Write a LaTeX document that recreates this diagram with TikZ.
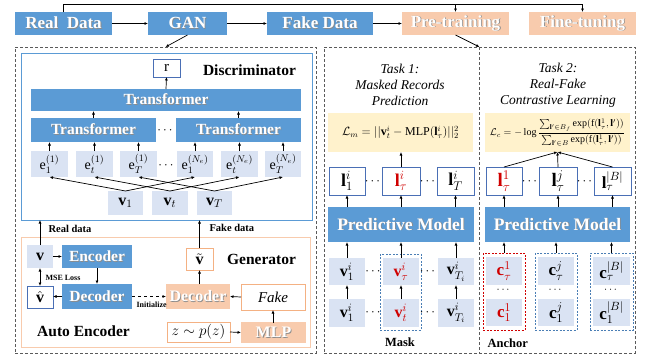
\RequirePackage{fix-cm}
\documentclass[tikz,border=0pt]{standalone}
\usepackage{amsmath}
\usepackage{fontspec}
\setmainfont{Liberation Serif}
\usetikzlibrary{arrows.meta}
\definecolor{bfill}{HTML}{5B9BD5}
\definecolor{lbfill}{HTML}{DAE3F3}
\definecolor{ofill}{HTML}{F8CBAD}
\definecolor{oborder}{HTML}{F4B183}
\definecolor{olight}{HTML}{F8CBAD}
\definecolor{yfill}{HTML}{FFF2CC}
\definecolor{lborder}{HTML}{4A6FB5}
\definecolor{dgray}{HTML}{5A5A5A}
\definecolor{myred}{HTML}{D00000}
\definecolor{mblue}{HTML}{4A7EB5}
\newcommand{\shd}[1]{\rlap{\kern0.8pt\raisebox{-0.8pt}{\color{black!45}#1}}#1}
\newcommand{\rb}[7]{\node[#1,minimum width={#5-#3},minimum height={#6-#4}] (#2) at ({(#3+#5)/2},{(#4+#6)/2}) {#7};}
\newcommand{\rd}[1]{\textcolor{myred}{#1}}
\tikzset{
 base/.style={inner sep=0pt, outer sep=0pt},
 topblue/.style={base, fill=bfill, text=white, font=\fontsize{17}{17}\selectfont\bfseries},
 toporange/.style={base, fill=ofill, text=white, font=\fontsize{17}{17}\selectfont\bfseries},
 bluet/.style={base, fill=bfill, text=white, font=\fontsize{15.5}{15.5}\selectfont\bfseries},
 pmstyle/.style={base, fill=bfill, text=white, font=\fontsize{17.5}{17.5}\selectfont\bfseries},
 oranget/.style={base, fill=ofill, text=white, font=\fontsize{16}{16}\selectfont\bfseries},
 lbbox/.style={base, fill=lbfill},
 ebox/.style={lbbox, font=\fontsize{14}{14}\selectfont},
 vbox/.style={lbbox, font=\fontsize{16}{16}\selectfont},
 wbox/.style={base, fill=white, draw=lborder, line width=0.9pt},
 lbox/.style={wbox, font=\fontsize{18}{18}\selectfont},
 wobox/.style={base, fill=white, draw=oborder, line width=0.9pt, font=\fontsize{15}{15}\selectfont},
 ybox/.style={base, fill=yfill},
 dbox/.style={base, draw=dgray, line width=0.9pt, dash pattern=on 3pt off 2pt},
 discstyle/.style={base, draw=bfill, line width=1pt},
 genstyle/.style={base, draw=olight, line width=1pt},
 maskbox/.style={base, draw=mblue, line width=0.9pt, dash pattern=on 2pt off 1.5pt},
 redbox/.style={base, draw=myred, line width=0.9pt, dash pattern=on 2pt off 1.5pt},
 arr/.style={-{Latex[length=3.5pt,width=3pt]}, line width=0.7pt},
 lbl/.style={font=\fontsize{15.5}{15.5}\selectfont\bfseries},
 small/.style={font=\fontsize{10.5}{10.5}\selectfont\bfseries},
 tiny/.style={font=\fontsize{8}{8}\selectfont\bfseries},
 title/.style={align=center, font=\fontsize{13.5}{16}\selectfont\itshape},
 dts/.style={font=\fontsize{13}{13}\selectfont},
}
\begin{document}
\begin{tikzpicture}[x=1pt,y=-1pt]
\useasboundingbox (0,0) rectangle (646,360);
% top row
\rb{topblue}{real}{15}{12}{112}{35}{\shd{Real\ \ Data}}
\rb{topblue}{gan}{148}{12}{227}{35}{\shd{GAN}}
\rb{topblue}{fake}{267}{12}{373}{35}{\shd{Fake Data}}
\rb{toporange}{pre}{402}{12}{509}{35}{\shd{Pre-training}}
\rb{toporange}{fine}{529}{12}{636}{35}{\shd{Fine-tuning}}
\coordinate (top) at (0,4);
\draw[arr] (real) -- (gan);
\draw[arr] (gan) -- (fake);
\draw[arr] (fake) -- (pre);
\draw[line width=0.8pt] (real.north) -- (real.north |- top) -- (fine.north |- top);
\draw[arr] (fine.north |- top) -- (fine.north);
\draw[arr] (pre.north |- top) -- (pre.north);
% dashed containers
\rb{dbox}{lbx}{15}{47}{316}{353}{}
\rb{dbox}{rbx}{324}{47}{635}{353}{}
\draw[dgray, line width=0.9pt, dash pattern=on 3pt off 2pt] (rbx.north) -- (rbx.south);
\draw[arr] (gan.south) -- (lbx.north);
\draw[arr] (pre.south) -- (rbx.north);
% discriminator
\rb{discstyle}{disc}{21}{53}{312}{220}{}
\rb{wbox}{r}{153}{59}{180}{77}{\fontsize{15}{15}\selectfont r}
\node[lbl] (dlab) at (249.5,70) {Discriminator};
\rb{bluet}{T0}{31}{89}{301}{111}{\shd{Transformer}}
\rb{bluet}{T1}{31}{118}{156}{142}{\shd{Transformer}}
\rb{bluet}{T2}{176}{118}{301}{142}{\shd{Transformer}}
\node[dts] (tdots) at (166,131) {$\cdots$};
\draw[arr] (T0.north) -- (r.south);
\draw[arr] (T1.north) -- (T1.north |- T0.south);
\draw[arr] (T2.north) -- (T2.north |- T0.south);
\rb{ebox}{e11}{31}{151}{68}{177}{$\mathrm{e}_1^{(1)}$}
\rb{ebox}{e1t}{76}{151}{113}{177}{$\mathrm{e}_t^{(1)}$}
\rb{ebox}{e1T}{120}{151}{157}{177}{$\mathrm{e}_T^{(1)}$}
\rb{ebox}{eN1}{177}{151}{213}{177}{$\mathrm{e}_1^{(N_e)}$}
\rb{ebox}{eNt}{221}{151}{258}{177}{$\mathrm{e}_t^{(N_e)}$}
\rb{ebox}{eNT}{265}{151}{301}{177}{$\mathrm{e}_T^{(N_e)}$}
\node[dts] (edots) at (167,166) {$\cdots$};
\foreach \n/\t in {e11/T1,e1t/T1,e1T/T1,eN1/T2,eNt/T2,eNT/T2}
  \draw[arr] (\n.north) -- (\n.north |- \t.south);
\rb{vbox}{v1}{108}{191}{143}{215}{$\mathbf{v}_1$}
\rb{vbox}{vt}{152}{191}{188}{215}{$\mathbf{v}_t$}
\rb{vbox}{vT}{197}{191}{232}{215}{$\mathbf{v}_T$}
\draw[arr] (v1.north) -- (e11.south);
\draw[arr] (v1.north) -- (eN1.south);
\draw[arr] (vt.north) -- (e1t.south);
\draw[arr] (vt.north) -- (eNt.south);
\draw[arr] (vT.north) -- (e1T.south);
\draw[arr] (vT.north) -- (eNT.south);
% generator / auto encoder
\rb{genstyle}{gen}{21}{237}{310}{347}{}
\rb{vbox}{v}{27}{245}{53}{268}{$\mathbf{v}$}
\rb{bluet}{enc}{62}{245}{132}{268}{\shd{Encoder}}
\rb{bluet}{dec}{62}{284}{132}{309}{\shd{Decoder}}
\rb{wbox}{vhat}{27}{286}{53}{308}{\fontsize{16}{16}\selectfont$\hat{\mathbf{v}}$}
\rb{oranget}{odec}{166}{284}{230}{309}{\shd{Decoder}}
\rb{wobox}{vtil}{186}{248}{213}{270}{\fontsize{16}{16}\selectfont$\tilde{\mathbf{v}}$}
\node[lbl] (glab) at (261.5,259) {Generator};
\rb{wobox}{fakebox}{241}{284}{305}{310}{\textit{Fake}}
\rb{oranget}{mlp}{241}{322}{306}{343}{\shd{MLP}}
\rb{wobox}{zbox}{167}{322}{230}{342}{$z\sim p(z)$}
\node[lbl] (alab) at (83.5,331) {Auto Encoder};
\draw[arr] (v.north) -- (v.north |- disc.south);
\node[small, anchor=west] (rdl) at (45,229) {Real data};
\draw[arr] (vtil.north) -- (vtil.north |- disc.south);
\node[small, anchor=west] (fdl) at (206,228) {Fake data};
\draw[arr] (v.east) -- (enc.west);
\draw[arr] (enc.south) -- (dec.north);
\draw[arr] (dec.west) -- (vhat.east |- dec.west);
\draw[{Latex[length=3.5pt,width=3pt]}-{Latex[length=3.5pt,width=3pt]}, line width=0.7pt] (v.south) -- (vhat.north);
\node[tiny, anchor=west] (mse) at (42,278) {MSE Loss};
\draw[arr, dashed] (dec.east) -- (odec.west);
\node[tiny, anchor=west] (ini) at (133,305) {Initialize};
\draw[arr] (vtil.south |- odec.north) -- (vtil.south);
\draw[arr] (fakebox.west) -- (odec.east);
\draw[arr] (mlp.north) -- (fakebox.south |- mlp.north) -- (fakebox.south);
\draw[arr] (zbox.east) -- (mlp.west);
% Task 1
\node[title] (t1) at (400,85) {Task 1:\\Masked Records\\Prediction};
\rb{ybox}{f1}{328}{113}{473}{152}{\fontsize{12}{12}\selectfont$\mathcal{L}_m = ||\mathbf{v}_t^i - \mathrm{MLP}(\mathbf{l}_\tau^i)||_2^2$}
\rb{lbox}{l11}{329}{167}{365}{195}{$\mathbf{l}_1^i$}
\rb{lbox}{l1m}{382}{167}{420}{195}{\rd{$\mathbf{l}_\tau^i$}}
\rb{lbox}{l1T}{437}{167}{474}{195}{$\mathbf{l}_T^i$}
\node[dts] (ld1) at (373.5,182) {$\cdots$};
\node[dts] (ld2) at (428.5,182) {$\cdots$};
\rb{pmstyle}{pm1}{328}{207}{474}{242}{\shd{Predictive Model}}
\draw[arr] (l1m.north) -- (l1m.north |- f1.south);
\foreach \n in {l11,l1m,l1T}
  \draw[arr] (\n.south |- pm1.north) -- (\n.south);
\rb{maskbox}{mask}{380}{254}{421}{330}{}
\rb{vbox}{va1}{329}{258}{365}{285}{$\mathbf{v}_1^i$}
\rb{vbox}{vam}{383}{258}{419}{285}{\rd{$\mathbf{v}_\tau^i$}}
\rb{vbox}{vaT}{438}{258}{474}{285}{$\mathbf{v}_{T_i}^i$}
\rb{vbox}{vb1}{329}{299}{365}{327}{$\mathbf{v}_1^i$}
\rb{vbox}{vbm}{383}{299}{419}{327}{\rd{$\mathbf{v}_t^i$}}
\rb{vbox}{vbT}{438}{299}{474}{327}{$\mathbf{v}_{T_i}^i$}
\node[dts] (vd1) at (374,272) {$\cdots$};
\node[dts] (vd2) at (428.5,272) {$\cdots$};
\node[dts] (vd3) at (374,313) {$\cdots$};
\node[dts] (vd4) at (428.5,313) {$\cdots$};
\foreach \a/\b in {va1/vb1,vam/vbm,vaT/vbT} {
  \draw[arr] (\a.north) -- (\a.north |- pm1.south);
  \draw[arr] (\b.north) -- (\a.south);
}
\node[font=\fontsize{12.5}{12.5}\selectfont\bfseries] (masklab) at (400,342) {Mask};
% Task 2
\node[title] (t2) at (558,85) {Task 2:\\Real-Fake\\Contrastive Learning};
\rb{ybox}{f2}{485}{113}{630}{152}{\fontsize{10}{10}\selectfont$\mathcal{L}_c = -\log\dfrac{\textstyle\sum_{\mathbf{l}'\in B_f}\exp(\mathrm{f}(\mathbf{l}_\tau^1,\mathbf{l}'))}{\textstyle\sum_{\mathbf{l}'\in B}\exp(\mathrm{f}(\mathbf{l}_\tau^1,\mathbf{l}'))}$}
\rb{lbox}{l21}{486}{167}{522}{195}{\fontsize{19}{19}\selectfont\rd{$\mathbf{l}_\tau^1$}}
\rb{lbox}{l2j}{539}{167}{577}{195}{\fontsize{19}{19}\selectfont$\mathbf{l}_\tau^j$}
\rb{lbox}{l2B}{594}{167}{631}{195}{\fontsize{17}{17}\selectfont$\mathbf{l}_\tau^{|B|}$}
\node[dts] (ld3) at (530.5,182) {$\cdots$};
\node[dts] (ld4) at (585.5,182) {$\cdots$};
\rb{pmstyle}{pm2}{485}{207}{630}{242}{\shd{Predictive Model}}
\foreach \n in {l21,l2j,l2B} {
  \draw[arr] (\n.north) -- (f2.south);
  \draw[arr] (\n.south |- pm2.north) -- (\n.south);
}
\rb{redbox}{an1}{483}{253}{525}{330}{}
\rb{maskbox}{an2}{535}{253}{577}{330}{}
\rb{maskbox}{an3}{590}{253}{633}{330}{}
\rb{vbox}{c1a}{486}{257}{522}{285}{\fontsize{17}{17}\selectfont\rd{$\mathbf{c}_\tau^1$}}
\rb{vbox}{c1b}{486}{299}{522}{326}{\fontsize{17}{17}\selectfont\rd{$\mathbf{c}_1^1$}}
\rb{vbox}{c2a}{538}{257}{574}{285}{\fontsize{17}{17}\selectfont$\mathbf{c}_\tau^j$}
\rb{vbox}{c2b}{538}{299}{574}{326}{\fontsize{17}{17}\selectfont$\mathbf{c}_1^j$}
\rb{vbox}{c3a}{593}{257}{630}{285}{\fontsize{17}{17}\selectfont$\mathbf{c}_\tau^{|B|}$}
\rb{vbox}{c3b}{593}{299}{630}{326}{\fontsize{17}{17}\selectfont$\mathbf{c}_1^{|B|}$}
\node[font=\fontsize{11}{11}\selectfont] (cd1) at (504,290) {$\cdots$};
\node[font=\fontsize{11}{11}\selectfont] (cd2) at (556,290) {$\cdots$};
\node[font=\fontsize{11}{11}\selectfont] (cd3) at (611.5,290) {$\cdots$};
\foreach \n in {an1,an2,an3}
  \draw[arr] (\n.north) -- (\n.north |- pm2.south);
\node[font=\fontsize{12.5}{12.5}\selectfont\bfseries, anchor=west] (anlab) at (484,343) {Anchor};
\end{tikzpicture}
\end{document}
